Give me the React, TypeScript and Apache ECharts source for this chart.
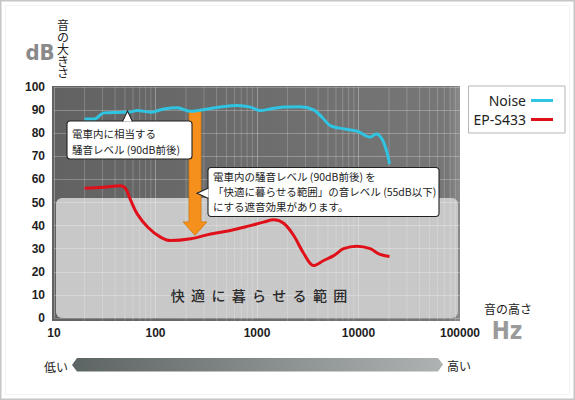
import React, { useEffect, useRef } from "react";
import * as echarts from "echarts";

// ---- data ----
const noiseFreq = [20, 25, 31, 42, 55, 66, 90, 121, 164, 222, 324, 438, 638, 863, 1080, 1358, 1834, 2672, 3614, 4370, 5270, 7130, 9660, 13040, 14960, 17000, 19050, 20200];
const noiseDb = [86.2, 86.2, 88.8, 89, 89.1, 89.8, 89.1, 90.5, 91, 89.5, 90.5, 91.3, 92, 91.3, 89.8, 90.5, 91.3, 91.5, 90.1, 86.9, 83.3, 81.9, 80.9, 78.3, 79.7, 77.6, 71.8, 66.7];

const epFreq = [20, 31, 45, 51, 57, 66, 84, 112, 141, 222, 350, 550, 860, 1160, 1460, 1830, 2300, 2900, 3610, 4540, 5700, 7130, 9660, 13040, 16300, 20200];
const epDb = [56.2, 56.6, 57.2, 55.9, 50.9, 45.1, 39.3, 35, 33.5, 34.3, 36.4, 37.9, 40, 41.5, 42.5, 41, 35.7, 27.8, 22.7, 24.9, 27, 30, 31.1, 30, 27.5, 26.6];

const seriesNames = ["Noise", "EP-S433"];
const minorFreqs = [
  20, 30, 40, 50, 60, 70, 80, 90,
  200, 300, 400, 500, 600, 700, 800, 900,
  2000, 3000, 4000, 5000, 6000, 7000, 8000, 9000,
  20000, 30000, 40000, 50000, 60000, 70000, 80000, 90000,
];
const xRange = [10, 100000];
const yRange = [0, 100];
const comfortMax = [52];
const arrowFreq = [245];
const arrowLevels = [89.8, 41.6, 35.8]; // top, neck, tip

const JP = "'Noto Sans CJK JP', 'Noto Sans', sans-serif";
const NUM = "'Liberation Sans', Arial, sans-serif";
const NARROW = "'Liberation Sans Narrow', 'DejaVu Sans Condensed', 'Liberation Sans', sans-serif";

function txt(text: string, x: number, y: number, extra: any = {}, z = 10): any {
  const align = extra.align || "left";
  const valign = extra.valign || "middle";
  return {
    type: "text",
    x,
    y,
    z,
    silent: true,
    style: {
      text,
      fill: extra.fill || "#222",
      fontSize: extra.fontSize || 11,
      fontFamily: extra.fontFamily || JP,
      fontWeight: extra.fontWeight || "normal",
      lineHeight: extra.lineHeight,
      textAlign: align,
      align,
      textVerticalAlign: valign,
      verticalAlign: valign,
    },
  };
}

function callout(box: number[], pointer: number[][], lines: string, textPos: number[], lineHeight: number): any[] {
  const [x, y, w, h] = box;
  return [
    {
      type: "rect",
      z: 10,
      silent: true,
      shape: { x, y, width: w, height: h, r: 3 },
      style: { fill: "#fff", stroke: "#222", lineWidth: 1.1 },
    },
    {
      type: "polygon",
      z: 11,
      silent: true,
      shape: { points: pointer },
      style: { fill: "#fff", stroke: null },
    },
    {
      type: "polyline",
      z: 11,
      silent: true,
      shape: { points: pointer },
      style: { stroke: "#222", lineWidth: 1.1, fill: null },
    },
    txt(lines, textPos[0], textPos[1], { fontSize: 10.5, lineHeight, valign: "top" }, 12),
  ];
}

export default function App() {
  const ref = useRef<HTMLDivElement>(null);

  useEffect(() => {
    document.body.style.margin = "0";
    const chart = echarts.init(ref.current as HTMLDivElement, null as any, { renderer: "svg" });

    const bgGrad = new echarts.graphic.LinearGradient(0, 0, 1, 0, [
      { offset: 0, color: "#626262" },
      { offset: 0.97, color: "#777777" },
      { offset: 1, color: "#8a8a8a" },
    ]);
    const arrowGrad = new echarts.graphic.LinearGradient(0, 0, 1, 0, [
      { offset: 0, color: "#5d6464" },
      { offset: 1, color: "#aeb2b2" },
    ]);

    const option: any = {
      animation: false,
      backgroundColor: "#ffffff",
      grid: { left: 54, right: 115, top: 87, bottom: 82 },
      legend: {
        data: seriesNames,
        orient: "vertical",
        right: 10,
        top: 86,
        align: "right",
        icon: "rect",
        itemWidth: 22,
        itemHeight: 3,
        itemGap: 4,
        selectedMode: false,
        padding: [7, 12, 6, 5],
        backgroundColor: "#ffffff",
        borderColor: "#b5b5b5",
        borderWidth: 1,
        textStyle: { color: "#222", fontSize: 14, fontFamily: "'Noto Sans', sans-serif", lineHeight: 15 },
      },
      xAxis: {
        type: "log",
        logBase: 10,
        min: xRange[0],
        max: xRange[1],
        z: 2,
        axisLine: { show: false },
        axisTick: { show: false },
        axisLabel: {
          color: "#1e1e1e",
          fontSize: 12,
          fontWeight: "bold",
          fontFamily: NUM,
          margin: 9,
          formatter: (v: number) => String(Math.round(v)),
        },
        splitLine: { show: true, lineStyle: { color: "rgba(255,255,255,0.3)", width: 1 } },
      },
      yAxis: {
        type: "value",
        min: yRange[0],
        max: yRange[1],
        interval: 10,
        z: 2,
        axisLine: { show: false },
        axisTick: { show: false },
        axisLabel: { color: "#1e1e1e", fontSize: 12, fontWeight: "bold", fontFamily: NUM, margin: 9 },
        splitLine: { show: true, lineStyle: { color: "rgba(255,255,255,0.25)", width: 1 } },
      },
      series: [
        {
          type: "custom",
          name: "bg",
          silent: true,
          z: 1,
          clip: false,
          data: [[xRange[0], yRange[0]]],
          renderItem: (_p: any, api: any) => {
            const tl = api.coord([xRange[0], yRange[1]]);
            const br = api.coord([xRange[1], yRange[0]]);
            const ct = api.coord([xRange[0], comfortMax[0]]);
            return {
              type: "group",
              children: [
                {
                  type: "rect",
                  shape: { x: tl[0] - 2, y: tl[1] - 1, width: br[0] - tl[0] + 2, height: br[1] - tl[1] + 4 },
                  style: { fill: bgGrad },
                },
                {
                  type: "rect",
                  shape: { x: tl[0] + 2, y: ct[1], width: br[0] - tl[0] - 4, height: br[1] - ct[1], r: 6 },
                  style: { fill: "#c8c8c8" },
                },
              ],
            };
          },
        },
        {
          type: "custom",
          name: "minor",
          silent: true,
          z: 2,
          clip: false,
          data: minorFreqs.map((f) => [f, yRange[0]]),
          renderItem: (_p: any, api: any) => {
            const f = api.value(0);
            const t = api.coord([f, yRange[1]]);
            const b = api.coord([f, yRange[0]]);
            return {
              type: "line",
              shape: { x1: t[0], y1: t[1], x2: b[0], y2: b[1] + 3 },
              style: { stroke: "rgba(255,255,255,0.2)", lineWidth: 1 },
            };
          },
        },
        {
          type: "custom",
          name: "arrow",
          silent: true,
          z: 2.5,
          clip: false,
          data: [[arrowFreq[0], arrowLevels[0]]],
          renderItem: (_p: any, api: any) => {
            const top = api.coord([arrowFreq[0], arrowLevels[0]]);
            const neck = api.coord([arrowFreq[0], arrowLevels[1]]);
            const tip = api.coord([arrowFreq[0], arrowLevels[2]]);
            const cx = top[0];
            return {
              type: "polygon",
              shape: {
                points: [
                  [cx - 6, top[1]],
                  [cx + 6, top[1]],
                  [cx + 6, neck[1]],
                  [cx + 12, neck[1]],
                  [cx, tip[1]],
                  [cx - 12, neck[1]],
                  [cx - 6, neck[1]],
                ],
              },
              style: { fill: "#f5901c", stroke: "#cf7a12", lineWidth: 0.8 },
            };
          },
        },
        {
          type: "line",
          name: seriesNames[0],
          data: noiseFreq.map((f, i) => [f, noiseDb[i]]),
          smooth: 0.35,
          symbol: "none",
          showSymbol: false,
          z: 3,
          lineStyle: { color: "#2fc4e2", width: 3 },
          itemStyle: { color: "#2fc4e2" },
        },
        {
          type: "line",
          name: seriesNames[1],
          data: epFreq.map((f, i) => [f, epDb[i]]),
          smooth: 0.35,
          symbol: "none",
          showSymbol: false,
          z: 3,
          lineStyle: { color: "#e0101a", width: 3 },
          itemStyle: { color: "#e0101a" },
        },
      ],
      graphic: {
        elements: [
          // frame
          {
            type: "rect",
            z: 0,
            silent: true,
            shape: { x: 0.75, y: 0.75, width: 573.5, height: 398.5 },
            style: { fill: null, stroke: "#c6c6c6", lineWidth: 1.5 },
          },
          {
            type: "rect",
            z: 0,
            silent: true,
            shape: { x: 5.5, y: 5.5, width: 564, height: 389 },
            style: { fill: null, stroke: "#f2f2f2", lineWidth: 1 },
          },
          // axis titles
          txt("dB", 40, 52, { fontSize: 22, fontWeight: "bold", fontFamily: NARROW, fill: "#8a8a8a", align: "center" }),
          txt("音\nの\n大\nき\nさ", 63, 18, { fontSize: 12, lineHeight: 12, align: "center", valign: "top", fill: "#222" }),
          txt("音の高さ", 508, 308, { fontSize: 12, align: "center", fill: "#222" }),
          txt("Hz", 507, 331, { fontSize: 24, fontWeight: "bold", fontFamily: NARROW, fill: "#9a9a9a", align: "center" }),
          // comfort label
          txt("快  適  に  暮  ら  せ  る  範  囲", 259, 295, { fontSize: 14, align: "center", fill: "#2a2a2a", fontWeight: 500 }, 4),
          // callout 1
          ...callout(
            [67, 121, 125, 38],
            [[122.5, 121.5], [127.5, 111], [132.5, 121.5]],
            "電車内に相当する\n騒音レベル (90dB前後)",
            [72, 125],
            16
          ),
          // callout 2
          ...callout(
            [208, 167.5, 231, 49],
            [[208.5, 188], [197, 193.3], [208.5, 198.5]],
            "電車内の騒音レベル (90dB前後) を\n「快適に暮らせる範囲」の音レベル (55dB以下)\nにする遮音効果があります。",
            [213, 169],
            15
          ),
          // bottom arrow
          {
            type: "polygon",
            z: 5,
            silent: true,
            shape: {
              points: [
                [72, 365],
                [77, 358],
                [438, 358],
                [443, 364.5],
                [438, 371.5],
                [77, 371.5],
              ],
            },
            style: { fill: arrowGrad },
          },
          txt("低い", 68, 366, { fontSize: 12, align: "right", fill: "#222" }),
          txt("高い", 447, 365, { fontSize: 12, align: "left", fill: "#222" }),
        ],
      },
    };

    chart.setOption(option);
    return () => chart.dispose();
  }, []);

  return <div ref={ref} style={{ width: 575, height: 400 }} />;
}
